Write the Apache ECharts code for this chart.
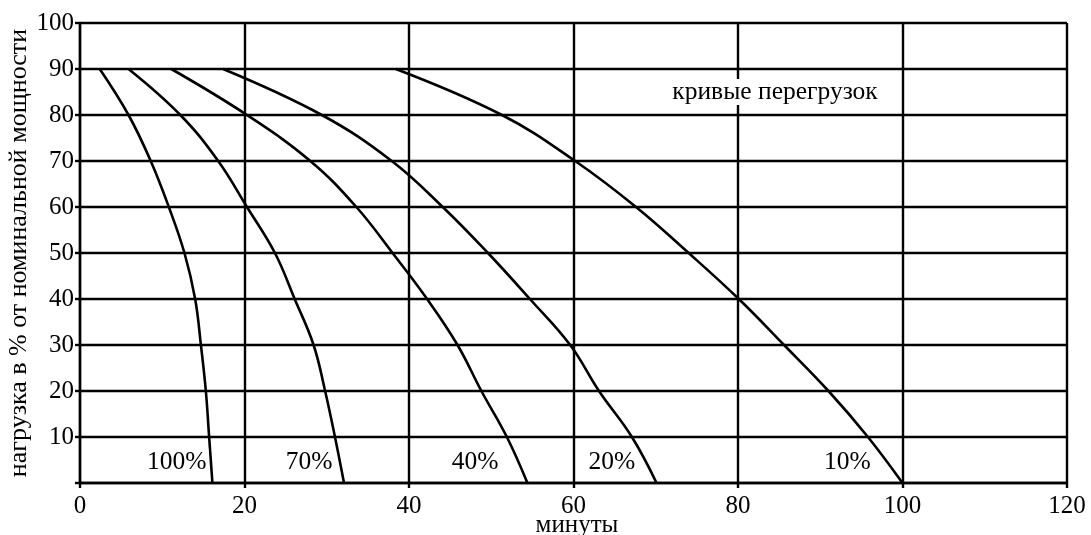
<!DOCTYPE html>
<html>
<head>
<meta charset="utf-8">
<script src="https://cdn.jsdelivr.net/npm/echarts@6/dist/echarts.min.js"></script>
<style>
  html, body { margin: 0; padding: 0; background: #fff; }
  #chart { width: 1091px; height: 535px; }
</style>
</head>
<body>
<div id="chart"></div>
<script>
// Load levels (%) for which permissible time-vs-load curves are drawn
const loadLevels = [90, 80, 70, 60, 50, 40, 30, 20, 10, 0];

// Minutes at each load level, one array per overload curve
const minutes100 = [2.4, 5.9, 8.6, 10.8, 12.7, 14.0, 14.7, 15.3, 15.7, 16.1];
const minutes70  = [5.9, 12.2, 16.8, 20.3, 23.7, 26.1, 28.4, 29.8, 31.0, 32.1];
const minutes40  = [11.1, 20.3, 28.0, 33.6, 38.0, 42.2, 45.9, 48.8, 51.9, 54.4];
const minutes20  = [17.4, 29.4, 37.9, 44.1, 49.6, 54.7, 59.6, 63.1, 67.1, 70.1];
const minutes10  = [38.4, 51.3, 60.2, 67.6, 74.0, 80.1, 85.6, 91.0, 95.8, 100.0];

const curveNames = ['100%', '70%', '40%', '20%', '10%'];
const curveMinutes = [minutes100, minutes70, minutes40, minutes20, minutes10];

// Where each curve's caption sits, in chart units [minutes, load]
const captionAnchors = [[11.75, 4.6], [27.85, 4.6], [48.05, 4.6], [64.67, 4.6], [93.3, 4.6]];
const titleText = 'кривые перегрузок';
const titleAnchor = [84.5, 85.0];

const xTicks = [0, 20, 40, 60, 80, 100, 120];
const yTicks = [0, 10, 20, 30, 40, 50, 60, 70, 80, 90, 100];

const FONT = '"Liberation Serif", "Times New Roman", serif';
const INK = '#000';
const GRID_W = 2.4;

const chart = echarts.init(document.getElementById('chart'), null, { renderer: 'canvas' });

const curveSeries = curveMinutes.map((mins, i) => ({
  name: curveNames[i],
  type: 'line',
  data: mins.map((m, j) => [m, loadLevels[j]]),
  smooth: 0.4,
  showSymbol: false,
  symbol: 'none',
  lineStyle: { color: INK, width: 2.6 },
  z: 5,
  silent: true
}));

const captionSeries = {
  type: 'scatter',
  symbolSize: 0,
  silent: true,
  itemStyle: { opacity: 1 },
  data: captionAnchors.map((p, i) => ({ value: p, name: curveNames[i] }))
    .concat([{ value: titleAnchor, name: titleText }]),
  label: {
    show: true,
    position: 'inside',
    formatter: p => p.name,
    color: INK,
    opacity: 1,
    fontFamily: FONT,
    fontSize: 25.5,
    backgroundColor: '#fff',
    padding: [0, 2]
  },
  z: 10
};

chart.setOption({
  animation: false,
  backgroundColor: '#fff',
  grid: { left: 80, right: 24, top: 23, bottom: 52, containLabel: false, outerBoundsMode: 'none' },
  xAxis: {
    type: 'value',
    min: xTicks[0],
    max: xTicks[xTicks.length - 1],
    interval: 20,
    name: 'минуты',
    nameLocation: 'middle',
    nameGap: 30,
    nameMoveOverlap: false,
    nameTextStyle: { color: INK, fontFamily: FONT, fontSize: 25, padding: [0, 0, 0, 7] },
    axisLine: { show: true, lineStyle: { color: INK, width: GRID_W } },
    axisTick: { show: true, length: 5, lineStyle: { color: INK, width: GRID_W } },
    axisLabel: { color: INK, fontFamily: FONT, fontSize: 25, margin: 11 },
    splitLine: { show: true, lineStyle: { color: INK, width: GRID_W } }
  },
  yAxis: {
    type: 'value',
    min: yTicks[0],
    max: yTicks[yTicks.length - 1],
    interval: 10,
    name: 'нагрузка в % от номинальной мощности',
    nameLocation: 'middle',
    nameGap: 48,
    nameMoveOverlap: false,
    nameTextStyle: { color: INK, fontFamily: FONT, fontSize: 26 },
    axisLine: { show: true, lineStyle: { color: INK, width: GRID_W } },
    axisTick: { show: true, length: 5, lineStyle: { color: INK, width: GRID_W } },
    axisLabel: {
      color: INK, fontFamily: FONT, fontSize: 25, margin: 6,
      formatter: v => (v === 0 ? '' : String(v))
    },
    splitLine: { show: true, lineStyle: { color: INK, width: GRID_W } }
  },
  series: curveSeries.concat([captionSeries])
});
</script>
</body>
</html>
